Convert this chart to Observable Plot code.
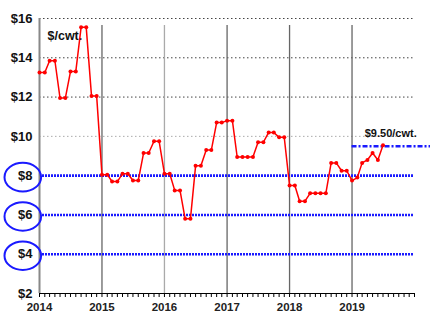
<!DOCTYPE html>
<html>
<head>
<meta charset="utf-8">
<script src="https://cdn.jsdelivr.net/npm/d3@7"></script>
<script src="https://cdn.jsdelivr.net/npm/@observablehq/plot@0.6"></script>
<style>
  body { margin: 0; background: #fff; }
  #chart { width: 430px; height: 323px; }
</style>
</head>
<body>
<div id="chart"></div>
<script>
// Monthly price, $/cwt, Jan 2014 .. Jul 2019
const startMonth = "2014-01-01";
const prices = [
  13.25, 13.25, 13.85, 13.85, 11.95, 11.95, 13.3, 13.3, 15.55, 15.55, 12.05, 12.05, // 2014
  8.05, 8.05, 7.7, 7.7, 8.1, 8.1, 7.75, 7.75, 9.15, 9.15, 9.75, 9.75,               // 2015
  8.1, 8.1, 7.25, 7.25, 5.8, 5.8, 8.5, 8.5, 9.3, 9.3, 10.7, 10.7,                   // 2016
  10.8, 10.8, 8.95, 8.95, 8.95, 8.95, 9.7, 9.7, 10.2, 10.2, 9.95, 9.95,             // 2017
  7.5, 7.5, 6.7, 6.7, 7.1, 7.1, 7.1, 7.1, 8.65, 8.65, 8.25, 8.25,                   // 2018
  7.75, 7.9, 8.65, 8.8, 9.15, 8.8, 9.55                                             // 2019
];
const yearLabels = ["2014", "2015", "2016", "2017", "2018", "2019"];
const yTicks = [2, 4, 6, 8, 10, 12, 14, 16];
const grayGrid = [10, 12, 14, 16];
const blueLevels = [8, 6, 4];
const targetValue = 9.5;
const targetLabel = "$9.50/cwt.";
const targetStart = "2019-01-01";
const unitLabel = "$/cwt.";

const t0 = new Date(startMonth);
const data = prices.map((v, i) => ({date: d3.utcMonth.offset(t0, i), value: v}));
const years = yearLabels.map(y => new Date(y + "-01-01"));
const xEnd = new Date("2020-01-01");
const months = d3.utcMonths(t0, d3.utcDay.offset(xEnd, 1));
const yearLines = years.slice(1);

const ellipse = {
  draw(ctx) {
    const rx = 18.3, ry = 14.3, k = 0.5523;
    ctx.moveTo(rx, 0);
    ctx.bezierCurveTo(rx, ry * k, rx * k, ry, 0, ry);
    ctx.bezierCurveTo(-rx * k, ry, -rx, ry * k, -rx, 0);
    ctx.bezierCurveTo(-rx, -ry * k, -rx * k, -ry, 0, -ry);
    ctx.bezierCurveTo(rx * k, -ry, rx, -ry * k, rx, 0);
    ctx.closePath();
  }
};

const font = "'Liberation Sans', Arial, Helvetica, sans-serif";

const chart = Plot.plot({
  width: 430,
  height: 323,
  marginLeft: 39,
  marginRight: 16,
  marginTop: 18,
  marginBottom: 30,
  style: {fontFamily: font, background: "#fff", overflow: "visible"},
  x: {type: "utc", domain: [t0, xEnd]},
  y: {domain: [2, 16]},
  marks: [
    // gray dotted gridlines
    Plot.ruleY(grayGrid, {x1: t0, x2: xEnd, stroke: d => d === 10 ? "#aaa" : "#444", strokeWidth: 1, strokeDasharray: "1.5,2.5"}),
    // year separators
    Plot.ruleX(yearLines, {y1: 2, y2: 15.65, stroke: d => d.getUTCFullYear() === 2016 ? "#aaa" : "#666", strokeWidth: 1.3}),
    // blue dotted levels
    Plot.ruleY(blueLevels, {x1: t0, x2: xEnd, stroke: "#1a1aff", strokeWidth: 2.6, strokeDasharray: "2,1"}),
    // left axis line
    Plot.ruleX([t0], {y1: 2, y2: 16, stroke: "#888", strokeWidth: 2}),
    // x axis line + monthly ticks
    Plot.ruleY([2], {x1: t0, x2: xEnd, stroke: "#000", strokeWidth: 1.2}),
    Plot.axisX(months, {tickSize: 4, tickFormat: () => "", stroke: "#000", label: null}),
    Plot.axisX(years, {tickSize: 0, tickPadding: 9, tickFormat: d3.utcFormat("%Y"), fontSize: 11.5, fontWeight: "bold", fill: "#222", label: null}),
    // y axis labels
    Plot.axisY(yTicks, {tickSize: 0, tickPadding: 7, tickFormat: d => "$" + d, fontSize: 13, fontWeight: "bold", fill: "#111", label: null}),
    // ellipses around $8, $6, $4
    Plot.dot(blueLevels, {x: t0, y: d => d, dx: -16.7, dy: 1.5, symbol: ellipse, fill: "none", stroke: "#1a1aff", strokeWidth: 2}),
    // target line
    Plot.ruleY([targetValue], {x1: new Date(targetStart), x2: new Date("2020-04-05"), stroke: "#1a1aff", strokeWidth: 2.6, strokeDasharray: "5,2,2,2"}),
    Plot.text([targetLabel], {x: new Date("2019-08-15"), y: targetValue, dy: -13, text: d => d, fontSize: 11, fontWeight: "bold", fill: "#111"}),
    // unit label
    Plot.text([unitLabel], {x: t0, y: 16, dx: 8, dy: 17, text: d => d, textAnchor: "start", fontSize: 12.5, fontWeight: "bold", fill: "#111"}),
    // price series
    Plot.line(data, {x: "date", y: "value", stroke: "#ff0000", strokeWidth: 1.5}),
    Plot.dot(data, {x: "date", y: "value", r: 2, fill: "#ff0000"})
  ]
});
document.getElementById("chart").appendChild(chart);
</script>
</body>
</html>
